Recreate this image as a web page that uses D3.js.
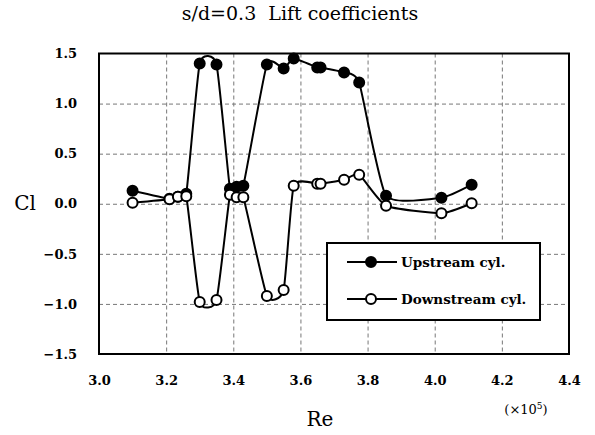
<!DOCTYPE html>
<html>
<head>
<meta charset="utf-8">
<script src="https://cdn.jsdelivr.net/npm/d3@7"></script>
<style>
  body { margin: 0; background: #fff; }
  text { font-family: "DejaVu Serif", serif; fill: #000; }
  .tick-label { font-weight: bold; font-size: 13px; }
</style>
</head>
<body>
<div class="chart"></div>
<script>
// Reynolds number (x10^5), same stations for both cylinders
var reValues = [3.10, 3.21, 3.235, 3.26, 3.30, 3.35, 3.39, 3.41, 3.43, 3.50, 3.55, 3.58, 3.65, 3.66, 3.73, 3.775, 3.855, 4.02, 4.11];
var upstreamCl = [0.13, 0.05, 0.07, 0.10, 1.40, 1.39, 0.15, 0.17, 0.18, 1.39, 1.35, 1.45, 1.36, 1.36, 1.31, 1.21, 0.08, 0.06, 0.19];
var downstreamCl = [0.01, 0.045, 0.07, 0.075, -0.98, -0.96, 0.09, 0.065, 0.065, -0.92, -0.86, 0.18, 0.20, 0.20, 0.24, 0.29, -0.02, -0.095, 0.005];

var xTicks = [3.0, 3.2, 3.4, 3.6, 3.8, 4.0, 4.2, 4.4];
var yTicks = [1.5, 1.0, 0.5, 0.0, -0.5, -1.0, -1.5];
var seriesNames = ["Upstream cyl.", "Downstream cyl."];

var svgWidth = 595;
var svgHeight = 435;
var margin = { top: 53.5, right: 26, bottom: 81, left: 99 };
var width = svgWidth - margin.left - margin.right;
var height = svgHeight - margin.top - margin.bottom;

var svg = d3.select(".chart")
  .append("svg")
  .attr("width", svgWidth)
  .attr("height", svgHeight);

var chart = svg.append("g")
  .attr("transform", "translate(" + margin.left + "," + margin.top + ")");

var xScale = d3.scaleLinear().domain([3.0, 4.4]).range([0, width]);
var yScale = d3.scaleLinear().domain([-1.5, 1.5]).range([height, 0]);

// grid lines
chart.append("g")
  .attr("class", "grid")
  .call(d3.axisBottom(xScale).tickValues(xTicks.slice(1, -1)).tickSize(height).tickFormat(""))
  .call(function(g) { g.select(".domain").remove(); })
  .selectAll("line")
  .attr("stroke", "#777")
  .attr("stroke-dasharray", "4,3");

chart.append("g")
  .attr("class", "grid")
  .call(d3.axisRight(yScale).tickValues(yTicks.slice(1, -1)).tickSize(width).tickFormat(""))
  .call(function(g) { g.select(".domain").remove(); })
  .selectAll("line")
  .attr("stroke", "#777")
  .attr("stroke-dasharray", "4,3");

// tick labels
var bottomAxis = chart.append("g")
  .attr("transform", "translate(0," + height + ")")
  .call(d3.axisBottom(xScale).tickValues(xTicks).tickSize(0).tickPadding(22).tickFormat(d3.format(".1f")));
bottomAxis.select(".domain").remove();
bottomAxis.selectAll("text").attr("class", "tick-label");

var leftAxis = chart.append("g")
  .call(d3.axisLeft(yScale).tickValues(yTicks).tickSize(0).tickPadding(22).tickFormat(d3.format(".1f")));
leftAxis.select(".domain").remove();
leftAxis.selectAll("text").attr("class", "tick-label");

// frame
chart.append("rect")
  .attr("width", width)
  .attr("height", height)
  .attr("fill", "none")
  .attr("stroke", "#000")
  .attr("stroke-width", 2);

var upData = reValues.map(function(re, i) { return { x: re, y: upstreamCl[i] }; });
var downData = reValues.map(function(re, i) { return { x: re, y: downstreamCl[i] }; });

// smoothed lines, similar to spreadsheet smoothing
var line = d3.line()
  .x(function(d) { return xScale(d.x); })
  .y(function(d) { return yScale(d.y); })
  .curve(d3.curveCardinal.tension(0.5));

[upData, downData].forEach(function(data, k) {
  chart.append("path")
    .datum(data)
    .attr("d", line)
    .attr("fill", "none")
    .attr("stroke", "#000")
    .attr("stroke-width", 2);
});

[upData, downData].forEach(function(data, k) {
  chart.selectAll(".pt" + k)
    .data(data)
    .enter().append("circle")
      .attr("class", "pt" + k)
      .attr("cx", function(d) { return xScale(d.x); })
      .attr("cy", function(d) { return yScale(d.y); })
      .attr("r", 5)
      .attr("fill", k === 0 ? "#000" : "#fff")
      .attr("stroke", "#000")
      .attr("stroke-width", 2);
});

// legend
var legend = svg.append("g").attr("transform", "translate(327,243)");
legend.append("rect")
  .attr("width", 213)
  .attr("height", 77)
  .attr("fill", "#fff")
  .attr("stroke", "#000")
  .attr("stroke-width", 2);

seriesNames.forEach(function(name, k) {
  var ly = 19 + k * 37;
  legend.append("line")
    .attr("x1", 20).attr("x2", 70)
    .attr("y1", ly).attr("y2", ly)
    .attr("stroke", "#000").attr("stroke-width", 2);
  legend.append("circle")
    .attr("cx", 44).attr("cy", ly).attr("r", 5)
    .attr("fill", k === 0 ? "#000" : "#fff")
    .attr("stroke", "#000").attr("stroke-width", 2);
  legend.append("text")
    .attr("x", 74).attr("y", ly)
    .attr("dy", "0.35em")
    .style("font-size", "13.5px")
    .style("font-weight", "bold")
    .text(name);
});

// titles
svg.append("text")
  .attr("x", 300).attr("y", 20)
  .attr("text-anchor", "middle")
  .style("font-size", "19px")
  .style("white-space", "pre")
  .text("s/d=0.3  Lift coefficients");

svg.append("text")
  .attr("x", 25).attr("y", 210)
  .attr("text-anchor", "middle")
  .style("font-size", "20px")
  .text("Cl");

svg.append("text")
  .attr("x", 320).attr("y", 426)
  .attr("text-anchor", "middle")
  .style("font-size", "20px")
  .text("Re");

var mult = svg.append("text")
  .attr("x", 526).attr("y", 414)
  .attr("text-anchor", "middle")
  .style("font-size", "13px");
mult.append("tspan").text("(\u00d710");
mult.append("tspan").attr("dy", "-5").style("font-size", "9px").text("5");
mult.append("tspan").attr("dy", "5").text(")");
</script>
</body>
</html>
